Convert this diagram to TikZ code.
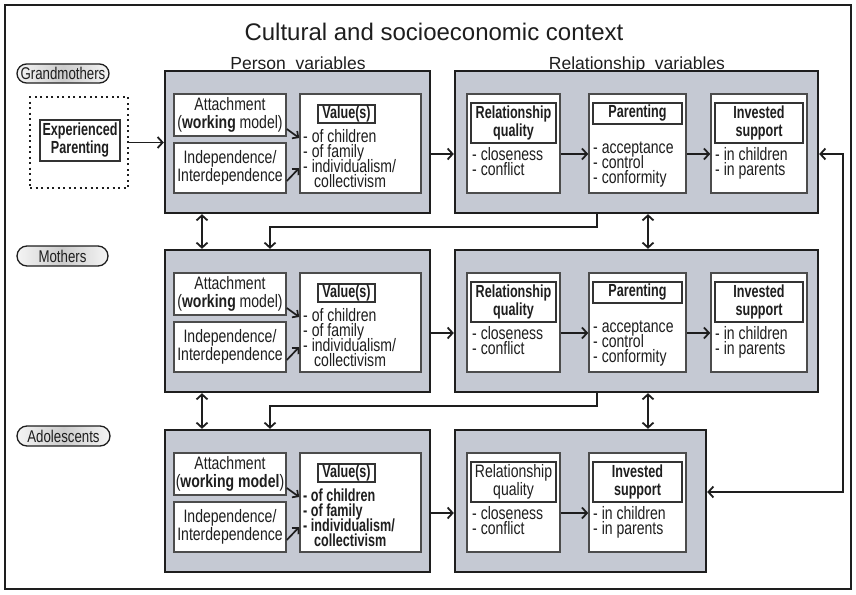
\documentclass[tikz,border=0pt]{standalone}
\usepackage{fontspec}
\setmainfont{Liberation Sans}
\newfontfamily\narrow[FakeStretch=0.78]{Liberation Sans}
\newfontfamily\narrowb[FakeStretch=0.72]{Liberation Sans}
\usetikzlibrary{arrows.meta,shapes.misc}
\definecolor{boxgray}{RGB}{197,201,211}
\definecolor{ink}{RGB}{30,30,30}
\newcommand{\tls}{\lineskiplimit-20pt\relax}
\newcommand{\bx}[7]{\node[#1, minimum width={(#5)-(#3)}, minimum height={(#6)-(#4)}] (#2) at ({((#3)+(#5))/2},{((#4)+(#6))/2}) {#7};}
\newcommand{\PersonRow}[4]{%
 \bx{obox}{P#2}{165}{#1}{430}{(#1)+142}{}
 \bx{tbox}{A#2}{174}{(#1)+23}{286}{(#1)+65}{Attachment\\#3}
 \bx{tbox}{I#2}{174}{(#1)+72}{286}{(#1)+122}{Independence/\\Interdependence}
 \bx{ibox}{V#2}{300}{(#1)+23}{421}{(#1)+122}{}
 \bx{hbox}{VH#2}{318}{(#1)+34}{375}{(#1)+52}{Value(s)}
 \node[lst,#4] (VL#2) at (303,{(#1)+116}) {- of children\\- of family\\- individualism/\\\hspace*{11pt}collectivism};
 \draw[sarr] ([yshift=-14pt]A#2.east) -- ([yshift=5.5pt]V#2.west);
 \draw[sarr] ([yshift=-13pt]I#2.east) -- ([yshift=-24.5pt]V#2.west);
 \coordinate (h#2) at (0,{(#1)+83});
}
\newcommand{\RelRow}[2]{%
 \bx{obox}{R#2}{455}{#1}{818}{(#1)+142}{}
 \bx{ibox}{RQ#2}{467}{(#1)+23}{560}{(#1)+122}{}
 \bx{hbox}{RQh#2}{471}{(#1)+32}{556}{(#1)+72}{Relationship\\quality}
 \node[lst] (RQl#2) at (472,{(#1)+104}) {- closeness\\- conflict};
 \bx{ibox}{PA#2}{589}{(#1)+23}{686}{(#1)+122}{}
 \bx{hbox}{PAh#2}{593}{(#1)+32}{682}{(#1)+53}{Parenting}
 \node[lst] (PAl#2) at (593,{(#1)+112}) {- acceptance\\- control\\- conformity};
 \bx{ibox}{IS#2}{711}{(#1)+23}{807}{(#1)+122}{}
 \bx{hbox}{ISh#2}{715}{(#1)+32}{803}{(#1)+72}{Invested\\support}
 \node[lst] (ISl#2) at (715,{(#1)+104}) {- in children\\- in parents};
 \draw[arr] (P#2.east |- h#2) -- (R#2.west |- h#2);
 \draw[arr] (RQ#2.east |- h#2) -- (PA#2.west |- h#2);
 \draw[arr] (PA#2.east |- h#2) -- (IS#2.west |- h#2);
}
\tikzset{
 every node/.style={inner sep=0pt, text=ink},
 framebox/.style={draw=ink, line width=1.5pt},
 obox/.style={draw=ink, line width=2.4pt, fill=boxgray},
 ibox/.style={draw=black!70, line width=1.6pt, fill=white},
 hbox/.style={draw=black!80, line width=1.4pt, fill=white, align=center,
   font=\narrowb\bfseries\fontsize{17.5}{18}\selectfont\tls},
 hboxl/.style={hbox, font=\narrow\fontsize{18}{18}\selectfont\tls},
 tbox/.style={ibox, align=center, font=\narrow\fontsize{18}{18.5}\selectfont\tls},
 lst/.style={anchor=base west, align=left, font=\narrow\fontsize{18}{15}\selectfont\tls},
 boldlst/.style={font=\narrowb\bfseries\fontsize{17.5}{15}\selectfont\tls},
 plainlst/.style={},
 pill/.style={rounded rectangle, draw=ink, line width=1.3pt,
   left color=gray!8, right color=gray!8, middle color=gray!40,
   font=\narrow\fontsize{17}{18}\selectfont},
 dotbox/.style={draw=ink, line width=2pt, dash pattern=on 2pt off 3.5pt},
 arr/.style={draw=ink, line width=1.8pt, -{Straight Barb[length=5pt,width=11pt]}},
 dbl/.style={draw=ink, line width=1.8pt, {Straight Barb[length=5pt,width=11pt]}-{Straight Barb[length=5pt,width=11pt]}},
 sarr/.style={draw=ink, line width=1.7pt, -{Straight Barb[length=4.5pt,width=9pt]}},
 lab/.style={anchor=base, font=\fontsize{17.5}{20}\selectfont}
}
\begin{document}
\begin{tikzpicture}[x=1pt,y=-1pt]
\useasboundingbox (0,0) rectangle (856,594);
\fill[white] (0,0) rectangle (856,594);
\bx{framebox}{fr}{5}{5}{851}{589}{}
\node[font=\fontsize{24}{28}\selectfont] (title) at (434,32) {Cultural and socioeconomic context};
\node[lab] (pv) at (298,70) {Person\ \ variables};
\node[lab] (rv) at (637,70) {Relationship\ \ variables};
% pills
\bx{pill}{gm}{17}{64}{109}{83}{Grandmothers}
\bx{pill}{mo}{17}{246}{108}{266}{Mothers}
\bx{pill}{ad}{17}{426}{110}{446}{Adolescents}
% experienced parenting
\bx{dotbox}{EP}{30}{97}{128}{188}{}
\bx{hbox}{EPi}{40}{120}{120}{161}{Experienced\\Parenting}
% rows
\PersonRow{71}{1}{(\textbf{working} model)}{plainlst}
\PersonRow{250}{2}{(\textbf{working} model)}{plainlst}
\PersonRow{430}{3}{(\textbf{working model})}{boldlst}
\draw[arr] (EP.east) -- (P1.west |- EP.east);
\RelRow{71}{1}
\RelRow{250}{2}
% row 3 relationship
\bx{obox}{R3}{455}{430}{706}{572}{}
\bx{ibox}{RQ3}{467}{453}{560}{552}{}
\bx{hboxl}{RQh3}{471}{462}{556}{502}{Relationship\\quality}
\node[lst] (RQl3) at (472,534) {- closeness\\- conflict};
\bx{ibox}{IS3}{589}{453}{686}{552}{}
\bx{hbox}{ISh3}{593}{462}{682}{502}{Invested\\support}
\node[lst] (ISl3) at (593,534) {- in children\\- in parents};
\draw[arr] (P3.east |- h3) -- (R3.west |- h3);
\draw[arr] (RQ3.east |- h3) -- (IS3.west |- h3);
% vertical connectors
\coordinate (xa) at (202,0);
\coordinate (xb) at (270,0);
\coordinate (xc) at (597,0);
\coordinate (xd) at (648,0);
\coordinate (xe) at (843,0);
\coordinate (fb) at (0,492);
\draw[dbl] (P1.south -| xa) -- (P2.north -| xa);
\draw[dbl] (P2.south -| xa) -- (P3.north -| xa);
\draw[arr] (R1.south -| xc) -- ++(0,13) -| (P2.north -| xb);
\draw[arr] (R2.south -| xc) -- ++(0,13) -| (P3.north -| xb);
\draw[dbl] (R1.south -| xd) -- (R2.north -| xd);
\draw[dbl] (R2.south -| xd) -- (R3.north -| xd);
\draw[dbl] (R1.east |- h1) -| (xe |- fb) -- (R3.east |- fb);
\end{tikzpicture}
\end{document}
